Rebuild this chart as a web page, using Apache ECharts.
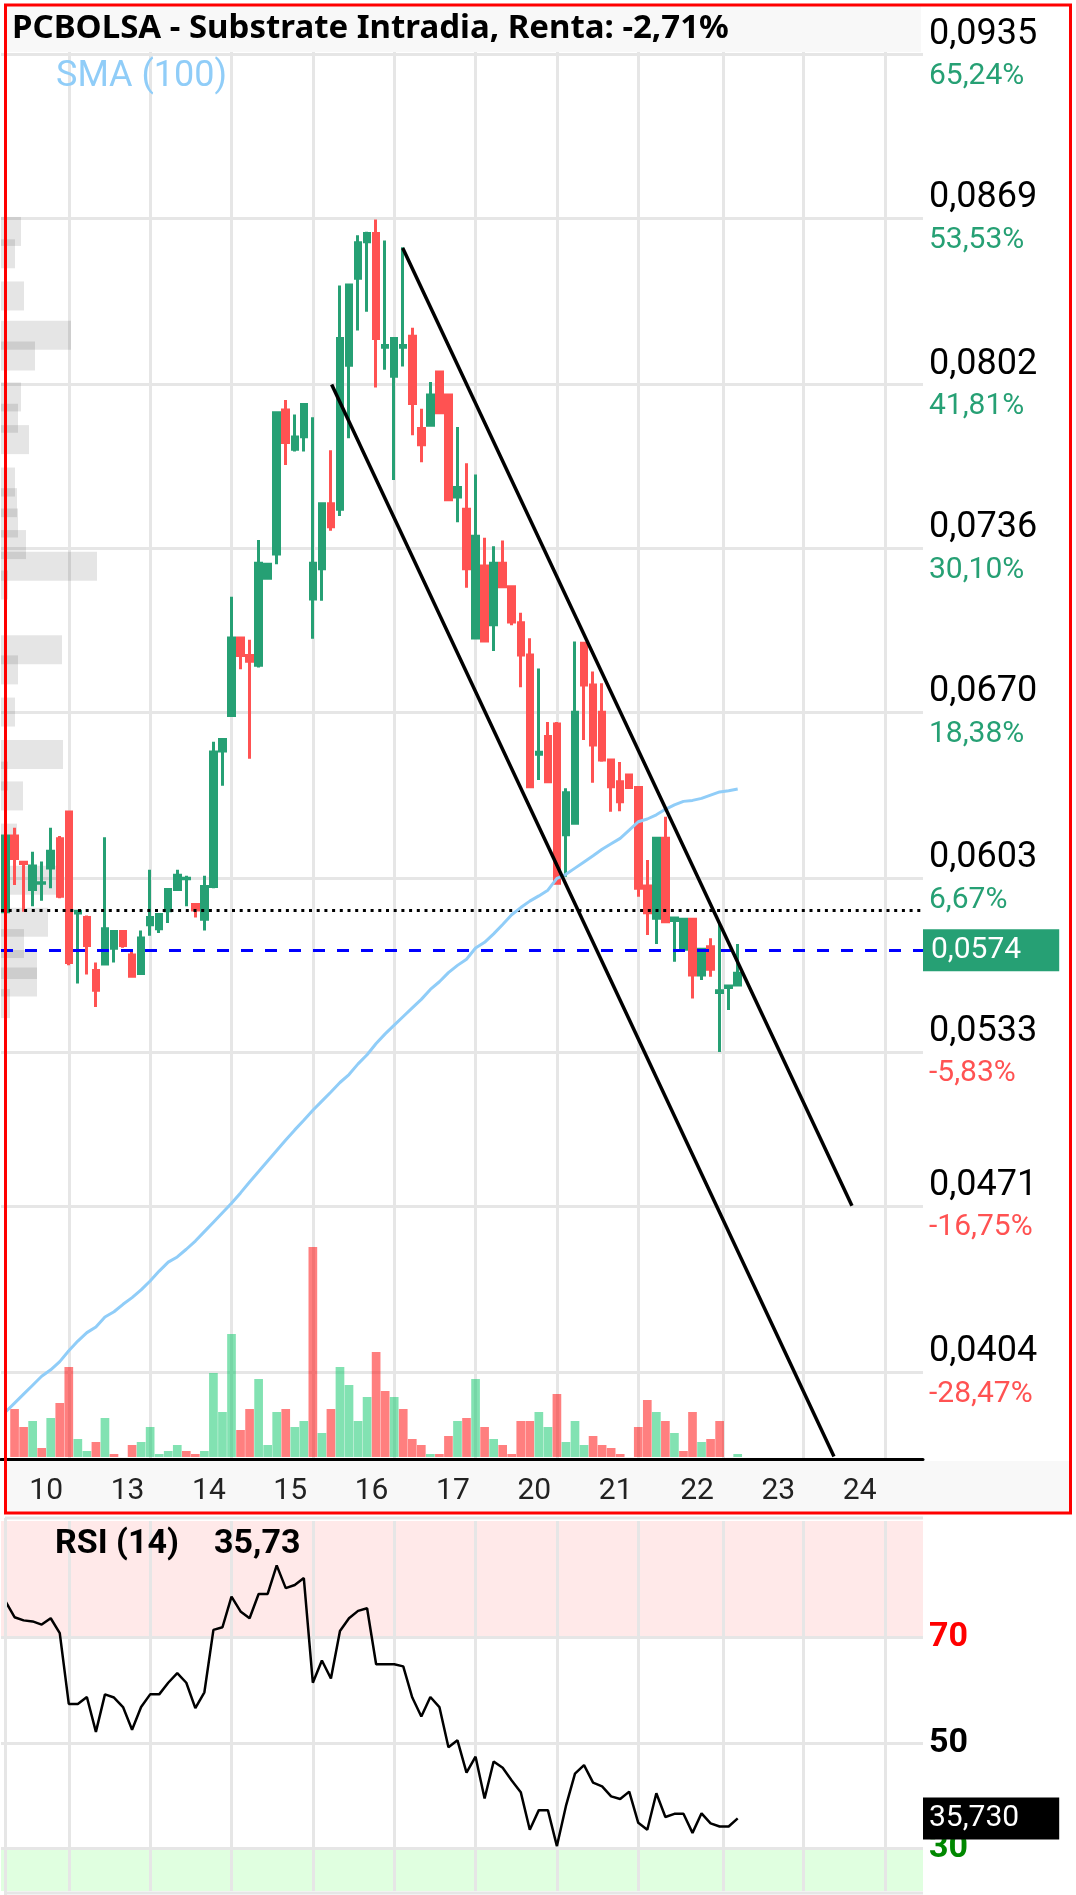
<!DOCTYPE html>
<html><head><meta charset="utf-8">
<script src="https://cdn.jsdelivr.net/npm/echarts@6/dist/echarts.min.js"></script>
<style>html,body{margin:0;padding:0;background:#fff}#c{width:1076px;height:1895px}</style>
</head><body><div id="c"></div>
<script>
// ---------------- data ----------------
const days = ['10','13','14','15','16','17','20','21','22','23','24'];
const SLOTS_PER_DAY = 9;
const FIRST_SLOT_OFFSET = 2;      // first visible bar is the 3rd bar of day 10
const TOTAL_SLOTS = 102;
// [open, close, low, high]
const candles = [
[0.05895,0.0620,0.05895,0.0620],[0.0620,0.0611,0.06003,0.06234],[0.06095,0.0609,0.05895,0.06097],
[0.05985,0.0608,0.05917,0.06137],[0.0601,0.06012,0.0594,0.06098],[0.06071,0.06139,0.0599,0.06234],
[0.06189,0.05958,0.0595,0.0620],[0.06297,0.05691,0.0568,0.0630],[0.0589,0.05897,0.05606,0.05899],
[0.05872,0.05759,0.05642,0.0588],[0.05658,0.05579,0.05511,0.05691],[0.05685,0.05827,0.0568,0.06195],
[0.05748,0.05816,0.05691,0.0582],[0.05816,0.05759,0.0575,0.0582],[0.05721,0.05635,0.0563,0.05744],
[0.05646,0.05789,0.0564,0.0582],[0.05843,0.05872,0.05798,0.06064],[0.05827,0.05884,0.0581,0.0589],
[0.05899,0.05985,0.0585,0.0599],[0.05985,0.06042,0.0598,0.06064],[0.06028,0.0603,0.05917,0.0604],
[0.05924,0.05902,0.05872,0.0593],[0.05865,0.05997,0.0582,0.0604],[0.05997,0.06539,0.0599,0.0658],
[0.06543,0.06589,0.06403,0.0659],[0.06686,0.06998,0.0668,0.07165],[0.06998,0.06928,0.06873,0.0700],
[0.06928,0.06905,0.06512,0.06991],[0.06889,0.0730,0.0688,0.07393],[0.07239,0.07296,0.07239,0.0730],
[0.07337,0.07906,0.07296,0.0791],[0.07917,0.07786,0.07696,0.07958],[0.07759,0.07809,0.0775,0.07899],
[0.0781,0.0794,0.0775,0.0794],[0.07156,0.0730,0.06995,0.07888],[0.07278,0.0754,0.07149,0.0754],
[0.0754,0.07447,0.07431,0.07755],[0.07517,0.08206,0.0749,0.08419],[0.08098,0.08421,0.07804,0.08421],
[0.08448,0.08591,0.08238,0.08622],[0.08595,0.08629,0.08313,0.08636],[0.08629,0.08206,0.08008,0.08685],
[0.0817,0.08177,0.0808,0.086],[0.08053,0.08206,0.07635,0.0821],[0.0817,0.08177,0.08093,0.08573],
[0.08215,0.07944,0.07816,0.08249],[0.07843,0.07777,0.07707,0.07922],[0.07856,0.07978,0.0785,0.0803],
[0.08071,0.07906,0.0790,0.08071],[0.07978,0.07556,0.0755,0.0798],[0.07567,0.07605,0.07465,0.07849],
[0.07517,0.07278,0.07201,0.07703],[0.06998,0.07409,0.06998,0.07657],[0.07289,0.06986,0.0698,0.07402],
[0.07052,0.0730,0.06946,0.07368],[0.0730,0.07205,0.0720,0.07391],[0.07205,0.07063,0.0705,0.0721],
[0.0706,0.0693,0.0680,0.0710],[0.0693,0.06399,0.06393,0.06997],[0.0653,0.06538,0.06426,0.06876],
[0.06601,0.06419,0.06419,0.0666],[0.06652,0.0601,0.0601,0.0666],[0.06205,0.06375,0.06036,0.06393],
[0.06252,0.06699,0.0625,0.06984],[0.06977,0.06809,0.06587,0.0698],[0.06809,0.06567,0.06415,0.06863],
[0.06699,0.06507,0.065,0.06816],[0.06507,0.06399,0.06298,0.0651],[0.06419,0.06339,0.063,0.06499],
[0.06446,0.06396,0.0639,0.0645],[0.06396,0.0599,0.05956,0.0640],[0.05999,0.05891,0.05801,0.06104],
[0.05869,0.06191,0.05765,0.06192],[0.06191,0.05855,0.0585,0.06278],[0.0586,0.0587,0.05694,0.0587],
[0.05744,0.05865,0.0574,0.0587],[0.05865,0.0564,0.05546,0.0587],[0.0564,0.05744,0.0562,0.0575],
[0.05754,0.05663,0.05633,0.05788],[0.0557,0.05577,0.0533,0.05849],[0.0559,0.05596,0.05499,0.0560],
[0.0560,0.05647,0.0560,0.05765]
];
const volume = [0,48,30,36,9,39,54,90,18,6,15,39,3,0,12,15,30,3,6,12,6,3,6,84,45,123,27,48,78,12,
45,48,30,36,210,24,48,90,72,36,60,105,66,60,48,18,12,3,3,21,36,39,78,30,18,12,3,36,36,45,
30,63,15,36,12,21,12,9,3,0,30,57,45,36,24,6,45,15,18,36,0,3];
const volumeUp = [1,0,0,1,0,1,0,0,1,1,0,1,0,0,0,1,1,1,1,1,0,0,1,1,1,1,0,0,1,1,
1,0,1,1,0,1,0,1,1,1,1,0,0,1,0,0,0,1,0,0,1,0,1,0,1,0,0,0,0,1,
1,0,1,1,1,0,0,0,0,0,0,0,1,0,1,0,0,1,0,0,0,1];
const sma100 = [0.03879,0.03915,0.03951,0.03987,0.04023,0.04049,0.04082,0.04126,0.04165,0.04199,
0.04222,0.04262,0.04283,0.04313,0.0434,0.04371,0.04407,0.04447,0.04483,0.04504,
0.04535,0.04568,0.04606,0.04644,0.04682,0.0472,0.04762,0.04806,0.04848,0.04891,
0.04933,0.04975,0.05016,0.05055,0.05095,0.05132,0.05169,0.05207,0.05239,0.05282,
0.05319,0.05364,0.05403,0.05438,0.05473,0.05508,0.05542,0.05582,0.05613,0.0565,
0.05679,0.05704,0.05749,0.05772,0.05806,0.05844,0.05883,0.05912,0.05938,0.05959,
0.05982,0.0603,0.06046,0.06071,0.06096,0.06121,0.06147,0.06169,0.06191,0.06224,
0.06258,0.06269,0.06286,0.06308,0.06326,0.0634,0.06344,0.06352,0.06365,0.06378,
0.06383,0.0639];
const rsi14 = [76.8,73.8,73.2,73.0,72.4,73.6,70.8,57.4,57.4,58.7,52.1,59.2,58.6,56.8,52.5,56.8,59.2,59.2,61.4,63.2,
61.4,56.6,59.6,71.4,71.9,77.7,74.9,73.6,78.2,78.2,83.6,79.3,79.9,81.2,61.4,65.6,62.2,71.2,73.6,75.0,
75.5,64.9,64.9,64.9,64.5,58.6,55.0,58.7,56.8,49.2,50.5,44.4,47.4,39.5,46.5,45.3,42.9,40.7,33.6,37.3,
37.3,30.5,38.1,44.2,45.8,42.5,41.8,39.9,39.4,40.8,34.9,33.6,40.5,36.0,36.6,36.6,33.0,36.7,34.8,34.2,
34.2,35.73];
const gridPrices = [0.0935,0.0869,0.0802,0.0736,0.0670,0.0603,0.0533,0.0471,0.0404];
const gridPcts = [65.24,53.53,41.81,30.10,18.38,6.67,-5.83,-16.75,-28.47];
const dayStartSlots = [7,16,25,34,43,52,61,70,79.4,88.3,97.3];
const profilePrice = [0.08637,0.08547,0.08377,0.08219,0.08135,0.0797,0.07884,0.07798,0.07627,0.07544,
0.07462,0.07375,0.07288,0.07212,0.06951,0.0687,0.0670,0.06529,0.06442,0.06362,0.06192,0.06022,
0.05853,0.05767,0.05683,0.05612,0.05525];
const profileVol = [20,14,23,70,34,20,17,28,14,16,17,25,96,7,61,17,14,62,7,22,16,58,47,23,36,36,9];
const PROFILE_BIN = 0.00117;
const trendUpper = [[43.94,0.0857],[93.64,0.0471]];
const trendLower = [[36.08,0.0802],[91.65,0.0370]];
const prevClose = 0.0590;
const lastPrice = 0.0574;
const rsiLevels = [70,50,30];
const TITLE = 'PCBOLSA - Substrate Intradia, Renta: -2,71%';

// ---------------- chart ----------------
const GREEN = '#26a074', RED = '#ff5252';
const Y_MIN = 0.036896, Y_MAX = 0.093602;
const fmt = (v, d) => v.toFixed(d).replace('.', ',');
const cats = [];
for (let i = 0; i < TOTAL_SLOTS; i++) {
  const k = i + FIRST_SLOT_OFFSET;
  cats.push(days[Math.floor(k / SLOTS_PER_DAY)] + '#' + (k % SLOTS_PER_DAY));
}
const LABEL_POS = 6;
const G = { left: 1, width: 922, outerBoundsMode: 'none', containLabel: false };
const empty = cats.map(() => '-');
const lastRsi = rsi14[rsi14.length - 1];
// vertical grid lines drawn as line pairs on the slot-valued x axis
const vLineData = (y0, y1) => dayStartSlots.map(s => [{ coord: [s, y0] }, { coord: [s, y1] }]);

const chart = echarts.init(document.getElementById('c'), null, { renderer: 'canvas' });
chart.setOption({
  animation: false,
  backgroundColor: '#fff',
  grid: [
    Object.assign({ top: 52, height: 1407 }, G),
    Object.assign({ top: 1247, height: 210 }, G),
    Object.assign({ top: 1521, height: 370 }, G)
  ],
  xAxis: [
    { type: 'category', gridIndex: 0, data: cats, boundaryGap: true, z: 10,
      axisLine: { show: true, onZero: false, lineStyle: { color: '#000', width: 3 } },
      axisTick: { show: false }, splitLine: { show: false },
      axisLabel: { interval: (i) => (i + FIRST_SLOT_OFFSET) % SLOTS_PER_DAY === LABEL_POS,
        formatter: v => v.split('#')[0], fontFamily: 'Roboto', fontSize: 30, color: '#222',
        margin: 17, padding: [0, 0, 0, 9] } },
    { type: 'value', gridIndex: 0, min: -0.5, max: TOTAL_SLOTS - 0.5, show: false },
    { type: 'value', gridIndex: 0, min: 0, max: 922, show: false },
    { type: 'category', gridIndex: 1, data: cats, show: false },
    { type: 'category', gridIndex: 2, data: cats, show: false },
    { type: 'value', gridIndex: 2, min: -0.5, max: TOTAL_SLOTS - 0.5, show: false }
  ],
  yAxis: [
    { type: 'value', gridIndex: 0, position: 'right', min: Y_MIN, max: Y_MAX, z: 10,
      axisLine: { show: true, lineStyle: { color: '#000', width: 3 } },
      axisLabel: { show: false }, axisTick: { show: false }, splitLine: { show: false } },
    { type: 'value', gridIndex: 1, min: 0, max: 210, show: false },
    { type: 'value', gridIndex: 2, position: 'right', min: 22, max: 92, z: 10,
      axisLine: { show: true, lineStyle: { color: '#000', width: 3 } },
      axisLabel: { show: false }, axisTick: { show: false }, splitLine: { show: false } }
  ],
  series: [
    { // price grid lines + labels
      type: 'line', xAxisIndex: 0, yAxisIndex: 0, data: empty, z: 1, silent: true, showSymbol: false,
      markLine: { z: 1, silent: true, symbol: ['none', 'none'], animation: false, precision: 6,
        lineStyle: { color: '#e6e6e6', width: 3, type: 'solid' },
        data: gridPrices.map((p, i) => ({ yAxis: p,
          label: { show: true, position: 'end', distance: 6,
            formatter: '{p|' + fmt(p, 4) + '}\n{g|' + fmt(gridPcts[i], 2) + '%}',
            rich: { p: { fontFamily: 'Roboto', fontSize: 36, color: '#000', lineHeight: 44 },
                    g: { fontFamily: 'Roboto', fontSize: 30, color: gridPcts[i] >= 0 ? GREEN : RED, lineHeight: 40 } } } })) }
    },
    { // vertical grid lines (price pane)
      type: 'line', xAxisIndex: 1, yAxisIndex: 0, data: [], z: 1, silent: true, showSymbol: false,
      markLine: { z: 1, silent: true, symbol: ['none', 'none'], animation: false, precision: 6,
        lineStyle: { color: '#e6e6e6', width: 3, type: 'solid' }, label: { show: false },
        data: vLineData(Y_MIN, Y_MAX) }
    },
    { // volume profile
      type: 'custom', xAxisIndex: 2, yAxisIndex: 0, z: 2, silent: true,
      data: profilePrice.map((p, i) => [profileVol[i], p]),
      renderItem: (params, api) => {
        const v = api.value(0), p = api.value(1);
        const a = api.coord([0, p + PROFILE_BIN / 2]);
        const b = api.coord([v, p - PROFILE_BIN / 2]);
        return { type: 'rect', shape: { x: a[0], y: a[1], width: b[0] - a[0], height: b[1] - a[1] },
                 style: { fill: 'rgba(0,0,0,0.1)' } };
      }
    },
    { // volume
      type: 'bar', xAxisIndex: 3, yAxisIndex: 1, z: 2, silent: true, barCategoryGap: '4%',
      data: volume.map((v, i) => ({ value: v, itemStyle: { color: volumeUp[i] ? 'rgba(5,197,101,0.5)' : 'rgba(255,0,0,0.5)' } }))
    },
    { type: 'candlestick', xAxisIndex: 0, yAxisIndex: 0, z: 3, silent: true, data: candles, barWidth: 6,
      itemStyle: { color: GREEN, color0: RED, borderColor: GREEN, borderColor0: RED, borderWidth: 3 } },
    { type: 'line', xAxisIndex: 0, yAxisIndex: 0, z: 4, silent: true, data: sma100, showSymbol: false,
      lineStyle: { color: '#90cdf8', width: 3 } },
    { type: 'line', xAxisIndex: 1, yAxisIndex: 0, z: 5, silent: true, data: trendUpper, showSymbol: false,
      lineStyle: { color: '#000', width: 3.5 } },
    { type: 'line', xAxisIndex: 1, yAxisIndex: 0, z: 5, silent: true, data: trendLower, showSymbol: false,
      lineStyle: { color: '#000', width: 3.5 } },
    { // previous close + last price
      type: 'line', xAxisIndex: 0, yAxisIndex: 0, data: empty, z: 4, silent: true, showSymbol: false,
      markLine: { z: 4, silent: true, symbol: ['none', 'none'], animation: false, precision: 6,
        data: [
          { yAxis: prevClose, lineStyle: { color: '#000', width: 3, type: [3, 4.7] }, label: { show: false } },
          { yAxis: lastPrice, lineStyle: { color: '#0000ff', width: 3, type: [12, 12] },
            label: { show: true, position: 'end', distance: 0, formatter: fmt(lastPrice, 4),
              backgroundColor: GREEN, color: '#fff', fontFamily: 'Roboto', fontSize: 30, lineHeight: 30,
              padding: [6, 38, 6, 8] } }
        ] }
    },
    { // RSI bands
      type: 'line', xAxisIndex: 4, yAxisIndex: 2, data: empty, z: 1, silent: true, showSymbol: false,
      markArea: { z: 0, silent: true, data: [
        [{ yAxis: 70, itemStyle: { color: '#ffe9e9' } }, { yAxis: 92 }],
        [{ yAxis: 22, itemStyle: { color: '#e0ffe0' } }, { yAxis: 30 }] ] }
    },
    { // RSI horizontal grid lines + labels
      type: 'line', xAxisIndex: 4, yAxisIndex: 2, data: empty, z: 2, silent: true, showSymbol: false,
      markLine: { z: 1, silent: true, symbol: ['none', 'none'], animation: false,
        lineStyle: { color: '#e6e6e6', width: 3, type: 'solid' },
        data: rsiLevels.map(l => ({ yAxis: l, label: { show: true, position: 'end', distance: 6,
          formatter: String(l), fontFamily: 'Roboto', fontWeight: 'bold', fontSize: 34,
          color: l === 70 ? '#ff0000' : (l === 30 ? '#008800' : '#000') } })) }
    },
    { // RSI vertical grid lines
      type: 'line', xAxisIndex: 5, yAxisIndex: 2, data: [], z: 2, silent: true, showSymbol: false,
      markLine: { z: 1, silent: true, symbol: ['none', 'none'], animation: false,
        lineStyle: { color: '#e6e6e6', width: 3, type: 'solid' }, label: { show: false },
        data: vLineData(22, 92) }
    },
    { type: 'line', xAxisIndex: 4, yAxisIndex: 2, z: 3, silent: true, data: rsi14, showSymbol: false,
      lineStyle: { color: '#000', width: 2.5 } },
    { // RSI value tag
      type: 'line', xAxisIndex: 4, yAxisIndex: 2, z: 6, silent: true, data: empty, showSymbol: false,
      markLine: { z: 6, silent: true, symbol: ['none', 'none'], animation: false, precision: 3,
        data: [{ yAxis: lastRsi, lineStyle: { color: 'rgba(0,0,0,0)', width: 0 },
          label: { show: true, position: 'end', distance: 0, formatter: fmt(lastRsi, 3),
            backgroundColor: '#000', color: '#fff', fontFamily: 'Roboto', fontSize: 30, lineHeight: 30,
            padding: [6, 40, 6, 6] } }] } }
  ],
  graphic: [
    { type: 'rect', z: 1, shape: { x: 7, y: 1461, width: 1062, height: 51 }, style: { fill: '#f8f8f8' } },
    { type: 'rect', z: 50, shape: { x: 7, y: 5, width: 914, height: 47 }, style: { fill: '#f8f8f8' } },
    { type: 'text', z: 51, x: 12, y: 29, style: { text: TITLE, font: 'bold 33px "Noto Sans"', fill: '#000', textVerticalAlign: 'middle' } },
    { type: 'text', z: 51, x: 56, y: 77, style: { text: 'SMA (100)', font: '36px Roboto', fill: '#90cdf8', textVerticalAlign: 'middle' } },
    { type: 'text', z: 51, x: 55, y: 1544, style: { text: 'RSI (14)', font: 'bold 34px Roboto', fill: '#000', textVerticalAlign: 'middle' } },
    { type: 'text', z: 51, x: 214, y: 1544, style: { text: fmt(lastRsi, 2), font: 'bold 34px Roboto', fill: '#000', textVerticalAlign: 'middle' } },
    { type: 'line', z: 51, shape: { x1: 5, y1: 1518, x2: 923, y2: 1518 }, style: { stroke: '#e6e6e6', lineWidth: 3 } },
    { type: 'line', z: 51, shape: { x1: 5, y1: 1893, x2: 923, y2: 1893 }, style: { stroke: '#e6e6e6', lineWidth: 3 } },
    { type: 'line', z: 51, shape: { x1: 5.5, y1: 1518, x2: 5.5, y2: 1895 }, style: { stroke: '#e6e6e6', lineWidth: 3 } },
    { type: 'rect', z: 60, shape: { x: 5.5, y: 5, width: 1065, height: 1508 }, style: { fill: 'none', stroke: '#ff0000', lineWidth: 3 } }
  ]
});
</script>
</body></html>
